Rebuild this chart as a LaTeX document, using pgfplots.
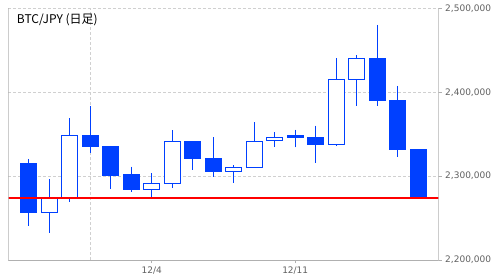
\documentclass[border=0pt]{standalone}
\usepackage{pgfplots}
\pgfplotsset{compat=1.18}
\usepackage{pgfplotstable}
\usepgfplotslibrary{statistics}
\usepackage{fontspec}
\setmainfont{DejaVu Sans}
\newfontfamily\cjk{Noto Sans CJK JP}
\definecolor{cblue}{HTML}{0040FF}
\definecolor{axgray}{HTML}{B0B0B0}
\definecolor{grdgray}{HTML}{D0D0D0}
\definecolor{lblgray}{HTML}{606060}

% prices in thousand yen: idx date open high low close
\pgfplotstableread{
idx date  open   high   low    close
0  11/28 2314.5 2320.4 2241.0 2256.9
1  11/29 2256.9 2296.6 2232.6 2274.3
2  11/30 2274.3 2369.3 2269.6 2348.6
3  12/1  2348.6 2383.6 2328.0 2335.1
4  12/2  2335.1 2336.0 2285.1 2300.6
5  12/3  2301.4 2311.3 2281.1 2283.9
6  12/4  2283.9 2303.7 2274.7 2291.4
7  12/5  2291.4 2355.0 2286.3 2341.5
8  12/6  2341.5 2341.5 2307.7 2320.8
9  12/7  2320.8 2346.6 2299.4 2305.3
10 12/8  2305.7 2313.3 2292.2 2310.5
11 12/9  2310.5 2364.5 2309.3 2341.5
12 12/10 2342.2 2352.9 2334.3 2346.6
13 12/11 2348.6 2355.3 2334.3 2345.8
14 12/12 2346.6 2360.1 2316.0 2337.4
15 12/13 2337.4 2440.8 2336.3 2415.4
16 12/14 2415.4 2444.4 2384.0 2440.4
17 12/15 2440.4 2480.1 2384.0 2390.3
18 12/16 2390.3 2407.4 2323.2 2331.5
19 12/17 2331.5 2331.5 2274.3 2274.3
}\ohlc

% #1 row, #2 body-bottom column, #3 body-top column, #4 fill
\newcommand\candle[4]{%
  \pgfplotstablegetelem{#1}{low}\of\ohlc\edef\cL{\pgfplotsretval}%
  \pgfplotstablegetelem{#1}{high}\of\ohlc\edef\cH{\pgfplotsretval}%
  \pgfplotstablegetelem{#1}{#2}\of\ohlc\edef\cB{\pgfplotsretval}%
  \pgfplotstablegetelem{#1}{#3}\of\ohlc\edef\cT{\pgfplotsretval}%
  \edef\cmd{\noexpand\addplot[draw=cblue, fill=#4, line width=1pt,
    boxplot/draw direction=y,
    boxplot prepared={draw position=#1, lower whisker=\cL, lower quartile=\cB,
      median=\cB, upper quartile=\cT, upper whisker=\cH,
      box extend=0.8, whisker extend=0}] coordinates {};}%
  \cmd}
\newcommand\candledown[1]{\candle{#1}{close}{open}{cblue}}
\newcommand\candleup[1]{\candle{#1}{open}{close}{white}}

\begin{document}
\begin{tikzpicture}
\useasboundingbox (-8.3pt,-19pt) rectangle (487.7pt,260pt);
\begin{axis}[
  at={(0,0)}, anchor=south west,
  scale only axis, width=430.4pt, height=251.7pt,
  xmin=-1, xmax=20, ymin=2200, ymax=2500,
  axis line style={draw=none},
  ytick={2200,2300,2400,2500},
  yticklabels={{2,200,000},{2,300,000},{2,400,000},{2,500,000}},
  ytick pos=right, yticklabel pos=right,
  xtick={6,13}, xticklabels={12/4,12/11},
  xtick pos=bottom,
  tick align=outside, major tick length=3pt,
  tick style={axgray, line width=0.8pt},
  ymajorgrids, xmajorgrids=false,
  grid style={grdgray, dashed, dash pattern=on 3pt off 2pt, line width=0.8pt},
  extra x ticks={3}, extra x tick labels={},
  extra x tick style={xmajorgrids=true, major tick length=0pt},
  ticklabel style={font=\fontsize{9}{10}\selectfont, text=lblgray},
  clip=true,
]
\candledown{0}
\candleup{1}
\candleup{2}
\candledown{3}
\candledown{4}
\candledown{5}
\candleup{6}
\candleup{7}
\candledown{8}
\candledown{9}
\candleup{10}
\candleup{11}
\candleup{12}
\candledown{13}
\candledown{14}
\candleup{15}
\candleup{16}
\candledown{17}
\candledown{18}
\candledown{19}
\addplot[red, line width=2pt] coordinates {(-1,2274.3) (20,2274.3)};
\draw[axgray, line width=0.8pt] (rel axis cs:0,1) -- (rel axis cs:0,0) -- (rel axis cs:1,0) -- (rel axis cs:1,1);
\node[anchor=base west, inner sep=0pt] at ([xshift=8.5pt, yshift=-15.5pt]rel axis cs:0,1)
  {\cjk\fontsize{12}{14}\selectfont BTC/JPY (日足)};
\end{axis}
\end{tikzpicture}
\end{document}
